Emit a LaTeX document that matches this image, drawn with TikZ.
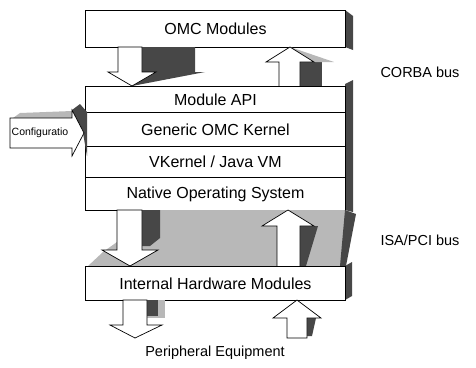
\documentclass[tikz,border=0pt]{standalone}
\usepackage{fontspec}
\setmainfont{Liberation Sans}
\begin{document}
\begin{tikzpicture}[x=1pt,y=-1pt,
  layer/.style={draw=black,line width=0.9pt,fill=white,minimum width=260pt,anchor=north west,inner sep=0pt,font=\fontsize{16}{18}\selectfont},
  dark/.style={fill=black!72,draw=none},
  light/.style={fill=black!28,draw=none},
  arr/.style={draw=black,line width=0.7pt,fill=white,line join=miter},
  lbl/.style={font=\fontsize{14.5}{17}\selectfont}]
\useasboundingbox (0,0) rectangle (476,367);

% ---------- top box ----------
\fill[dark] (345,10) -- (353,16) -- (353,50) -- (345,47) -- cycle;
\node[layer,minimum height=37pt] (omc) at (85,10) {OMC Modules};

% ---------- CORBA bus arrows ----------
\fill[dark] (142,47) -- (195,47) -- (195,72) -- (205,72) -- (132,86) -- (156,72) -- (142,72) -- cycle;
\draw[arr] (118,47) -- (142,47) -- (142,72) -- (156,72) -- (132,86) -- (108,72) -- (118,72) -- cycle;
\fill[dark] (300,62) -- (322,62) -- (322,86) -- (300,86) -- cycle;
\fill[light] (290,47) -- (334,62) -- (314,62) -- cycle;
\draw[arr] (279,86) -- (279,62) -- (266,62) -- (290,47) -- (314,62) -- (300,62) -- (300,86);

% ---------- stack ----------
\fill[dark] (345,84) -- (353,80) -- (353,212) -- (345,210) -- cycle;
\node[layer,minimum height=26pt] (api) at (85,86) {Module API};
\node[layer,minimum height=34pt] (gen) at (85,112) {Generic OMC Kernel};
\node[layer,minimum height=31pt] (vk) at (85,146) {VKernel / Java VM};
\node[layer,minimum height=33pt] (os) at (85,177) {Native Operating System};

% ---------- configuration arrow ----------
\fill[light] (13,118) -- (20,113) -- (72,111) -- (72,118) -- cycle;
\fill[dark] (72,110) -- (80,104) -- (87,112) -- (87,156) -- (83,133) -- cycle;
\draw[arr] (10,118) -- (72,118) -- (72,110) -- (84,133) -- (72,156) -- (72,148) -- (10,148) -- cycle;
\node[font=\fontsize{10.5}{12}\selectfont,inner sep=0pt] (cfg) at (40,133) {Configuratio};

% ---------- ISA/PCI bus ----------
\fill[light] (145,210) -- (345,210) -- (344,266) -- (88,266) -- (103,252) -- (145,222) -- cycle;
\fill[dark] (142,210) -- (160,210) -- (160,238) -- (150,246) -- (142,246) -- cycle;
\fill[dark] (345,210) -- (356,214) -- (346,266) -- (340,266) -- cycle;
\fill[dark] (300,226) -- (318,226) -- (306,266) -- (300,266) -- cycle;
\draw[arr] (117,210) -- (142,210) -- (142,250) -- (158,250) -- (130,266) -- (102,250) -- (117,250) -- cycle;
\draw[arr] (277,266) -- (277,226) -- (262,226) -- (288,210) -- (314,226) -- (300,226) -- (300,266);

% ---------- hardware ----------
\fill[dark] (345,266) -- (352,262) -- (352,296) -- (345,300) -- cycle;
\node[layer,minimum height=34pt] (hw) at (85,266) {Internal Hardware Modules};

% ---------- peripheral arrows ----------
\fill[light] (147,300) -- (165,300) -- (165,318) -- (147,318) -- cycle;
\fill[dark] (147,300) -- (158,300) -- (158,316) -- (147,316) -- cycle;
\fill[dark] (307,318) -- (316,318) -- (312,336) -- (307,336) -- cycle;
\draw[arr] (123,300) -- (147,300) -- (147,325) -- (162,325) -- (135,338) -- (110,325) -- (123,325) -- cycle;
\draw[arr] (287,338) -- (287,318) -- (273,318) -- (297,300) -- (321,318) -- (307,318) -- (307,338) -- cycle;

% ---------- labels ----------
\node[lbl] (corba) at (420,72) {CORBA bus};
\node[lbl] (isa) at (420,240) {ISA/PCI bus};
\node[lbl] (per) at (215,353) {Peripheral Equipment};
\end{tikzpicture}
\end{document}
